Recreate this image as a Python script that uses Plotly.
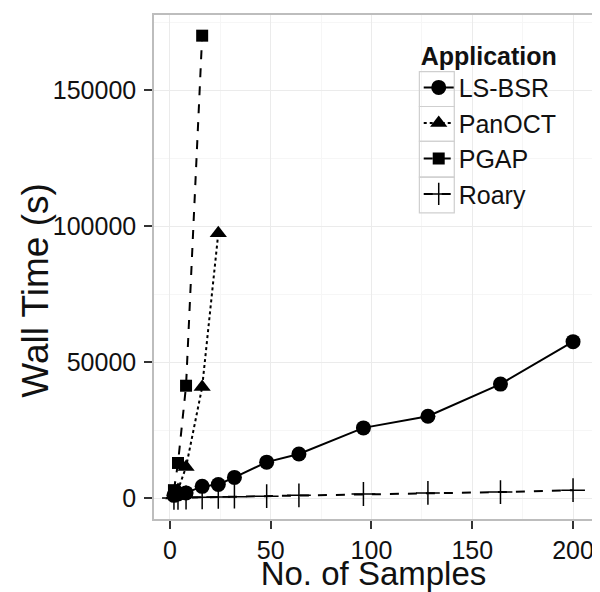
import plotly.graph_objects as go

# ---- data ----
lsbsr_x = [2, 4, 8, 16, 24, 32, 48, 64, 96, 128, 164, 200]
lsbsr_y = [1000, 1500, 1900, 4300, 5000, 7600, 13200, 16200, 25800, 30100, 41900, 57500]

panoct_x = [2, 4, 8, 16, 24]
panoct_y = [900, 3000, 11400, 40800, 97400]

pgap_x = [2, 4, 8, 16]
pgap_y = [2900, 12900, 41300, 170000]

roary_x = [2, 4, 8, 16, 24, 32, 48, 64, 96, 128, 164, 200]
roary_y = [50, 100, 200, 300, 400, 500, 700, 1000, 1500, 1900, 2200, 2900]

x_ticks = [0, 50, 100, 150, 200]
y_ticks = [0, 50000, 100000, 150000]
legend_names = ["LS-BSR", "PanOCT", "PGAP", "Roary"]

FONT = "Liberation Sans, Arial, sans-serif"
INK = "black"

fig = go.Figure()
fig.add_trace(go.Scatter(x=lsbsr_x, y=lsbsr_y, name=legend_names[0], mode="lines+markers",
                         line=dict(color=INK, width=2, dash="solid"),
                         marker=dict(symbol="circle", size=15, color=INK)))
fig.add_trace(go.Scatter(x=panoct_x, y=panoct_y, name=legend_names[1], mode="lines+markers",
                         line=dict(color=INK, width=2, dash="dot"),
                         marker=dict(symbol="triangle-up", size=15, color=INK)))
fig.add_trace(go.Scatter(x=pgap_x, y=pgap_y, name=legend_names[2], mode="lines+markers",
                         line=dict(color=INK, width=2, dash="dash"),
                         marker=dict(symbol="square", size=12, color=INK)))
fig.add_trace(go.Scatter(x=roary_x, y=roary_y, name=legend_names[3], mode="lines+markers",
                         line=dict(color=INK, width=2, dash="dash"),
                         marker=dict(symbol="cross-thin", size=17, color=INK,
                                     line=dict(color=INK, width=1.5))))

axis_common = dict(
    showline=True, linecolor="#bdbdbd", linewidth=1.5, mirror=True,
    showgrid=True, gridcolor="#ebebeb", gridwidth=1,
    zeroline=False,
    ticks="outside", ticklen=8, tickwidth=1.5, tickcolor="#333333",
    tickfont=dict(family=FONT, size=25, color="#111111"),
    tickformat="d",
)

# grey key boxes of the legend (ggplot style), in plot-area fractions
key_x0, key_x1 = 0.6045, 0.684
key_edges = [0.8876, 0.8185, 0.7495, 0.6785, 0.6075]
shapes = []
for i in range(len(legend_names)):
    shapes.append(dict(type="rect", xref="paper", yref="paper",
                       x0=key_x0, x1=key_x1, y0=key_edges[i + 1], y1=key_edges[i],
                       line=dict(color="#cfcfcf", width=1.2), fillcolor="rgba(0,0,0,0)",
                       layer="above"))

fig.update_layout(
    width=592, height=584,
    margin=dict(l=146, r=6, t=5, b=72),
    paper_bgcolor="white", plot_bgcolor="white",
    font=dict(family=FONT, color="#111111"),
    xaxis=dict(range=[-7.9, 209.9], tickvals=x_ticks,
               minor=dict(dtick=25, showgrid=True, gridcolor="#f6f6f6", ticks=""),
               title=dict(text="No. of Samples", font=dict(family=FONT, size=33), standoff=0),
               **axis_common),
    yaxis=dict(range=[-7700, 177600], tickvals=y_ticks,
               minor=dict(dtick=25000, showgrid=True, gridcolor="#f6f6f6", ticks=""),
               ticklabelstandoff=3,
               **axis_common),
    annotations=[dict(text="Wall Time (s)", xref="paper", yref="paper",
                      x=-0.2705, y=0.4536, xanchor="center", yanchor="middle",
                      textangle=-90, showarrow=False,
                      font=dict(family=FONT, size=37, color="#111111"))],
    legend=dict(
        title=dict(text="<b>Application</b>", font=dict(family=FONT, size=25), side="top"),
        font=dict(family=FONT, size=25),
        x=0.603, y=0.966, xanchor="left", yanchor="top",
        bgcolor="rgba(255,255,255,0)", borderwidth=0,
        itemwidth=30, tracegroupgap=0,
    ),
    shapes=shapes,
    showlegend=True,
)

fig.write_html("out.html")
